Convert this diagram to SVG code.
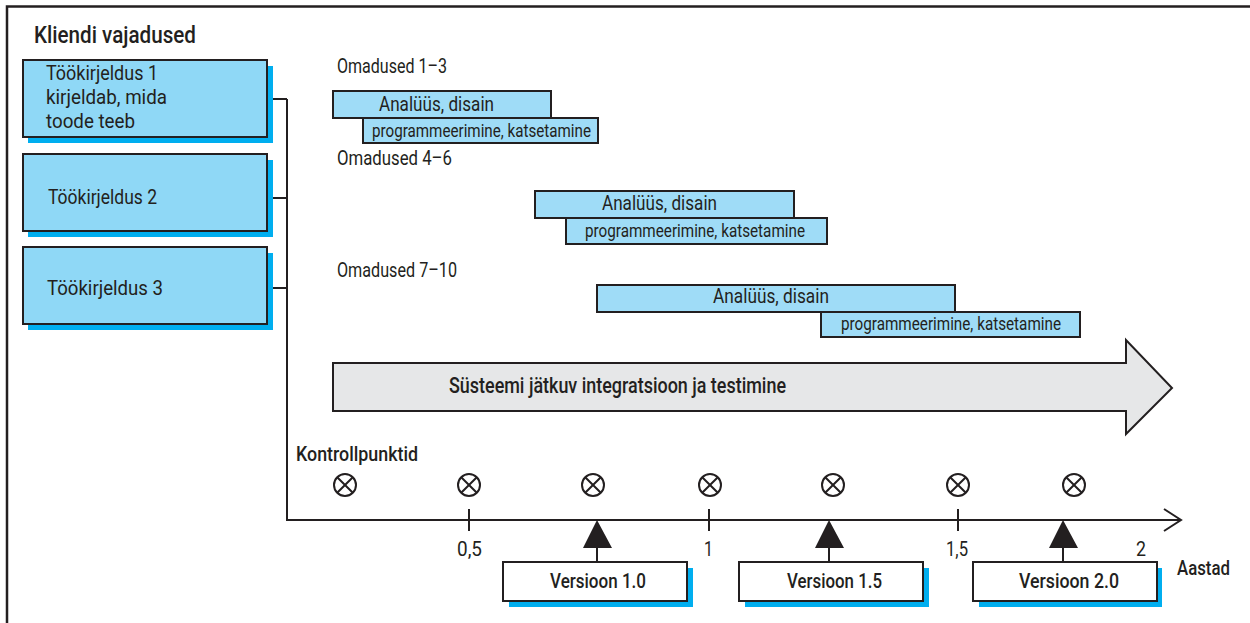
<svg xmlns="http://www.w3.org/2000/svg" width="1250" height="623" viewBox="0 0 1250 623">
<defs>
<style>
text{font-family:"Roboto","Liberation Sans",sans-serif;fill:#231f20}
.ln{stroke:#231f20;stroke-width:2;fill:none}
.box{fill:#8fd8f6;stroke:#231f20;stroke-width:2}
.shadow{fill:#00aeef}
.bar{fill:#9fdcf7;stroke:#231f20;stroke-width:2}
.vbox{fill:#ffffff;stroke:#231f20;stroke-width:2}
.t21{font-size:21px}
.t20{font-size:20px}
.t19{font-size:19px}
.med{font-weight:500}
</style>
<g id="cp">
<circle cx="0" cy="0" r="11" fill="#fff" stroke="#231f20" stroke-width="2"/>
<path d="M-7.8,-7.8L7.8,7.8M-7.8,7.8L7.8,-7.8" stroke="#231f20" stroke-width="2"/>
</g>
</defs>
<rect width="1250" height="623" fill="#fff"/>
<path d="M7,623V6.5H1250" fill="none" stroke="#231f20" stroke-width="2.5"/>
<text x="34" y="43" class="med" font-size="23" textLength="162" lengthAdjust="spacingAndGlyphs">Kliendi vajadused</text>

<g id="connectors">
<path class="ln" d="M267,99H287M267,198H287M267,288H287M287,99V520H1180"/>
<path class="ln" d="M1164,509L1181,520L1164,531" stroke-width="2.2"/>
<path class="ln" d="M469,509V531M709,509V531M958,509V531"/>
<path class="ln" d="M597,548V562M829,548V562M1063,548V562"/>
<path d="M597,520L583,548H612Z M829,520L815,548H844Z M1063,520L1049,548H1078Z" fill="#231f20"/>
</g>

<g id="req1">
<rect class="shadow" x="28" y="66" width="245" height="77"/>
<rect class="box" x="23" y="60" width="244" height="77"/>
<text x="46" y="80" class="t21" textLength="112" lengthAdjust="spacingAndGlyphs">Töökirjeldus 1</text>
<text x="46" y="104" class="t21" textLength="121" lengthAdjust="spacingAndGlyphs">kirjeldab, mida</text>
<text x="46" y="128" class="t21" textLength="89" lengthAdjust="spacingAndGlyphs">toode teeb</text>
</g>
<g id="req2">
<rect class="shadow" x="28" y="160" width="245" height="77"/>
<rect class="box" x="23" y="154" width="244" height="77"/>
<text x="48" y="204" class="t21" textLength="109" lengthAdjust="spacingAndGlyphs">Töökirjeldus 2</text>
</g>
<g id="req3">
<rect class="shadow" x="28" y="253" width="245" height="77"/>
<rect class="box" x="23" y="247" width="244" height="77"/>
<text x="47" y="295" class="t21" textLength="116" lengthAdjust="spacingAndGlyphs">Töökirjeldus 3</text>
</g>

<g id="feat1">
<text x="337" y="73" class="t20" textLength="110" lengthAdjust="spacingAndGlyphs">Omadused 1–3</text>
<rect class="bar" x="333" y="91" width="218" height="27"/>
<text x="379" y="111" class="t20" textLength="115" lengthAdjust="spacingAndGlyphs">Analüüs, disain</text>
<rect class="bar" x="363" y="118" width="235" height="25"/>
<text x="372" y="137" class="t19" textLength="219" lengthAdjust="spacingAndGlyphs">programmeerimine, katsetamine</text>
</g>
<g id="feat2">
<text x="337" y="165" class="t20" textLength="115" lengthAdjust="spacingAndGlyphs">Omadused 4–6</text>
<rect class="bar" x="535" y="191" width="259" height="27"/>
<text x="602" y="210" class="t20" textLength="115" lengthAdjust="spacingAndGlyphs">Analüüs, disain</text>
<rect class="bar" x="566" y="218" width="261" height="26"/>
<text x="585" y="237" class="t19" textLength="220" lengthAdjust="spacingAndGlyphs">programmeerimine, katsetamine</text>
</g>
<g id="feat3">
<text x="337" y="277" class="t20" textLength="120" lengthAdjust="spacingAndGlyphs">Omadused 7–10</text>
<rect class="bar" x="597" y="285" width="358" height="27"/>
<text x="713" y="303" class="t20" textLength="116" lengthAdjust="spacingAndGlyphs">Analüüs, disain</text>
<rect class="bar" x="821" y="312" width="259" height="25"/>
<text x="841" y="330" class="t19" textLength="220" lengthAdjust="spacingAndGlyphs">programmeerimine, katsetamine</text>
</g>

<g id="integration">
<path d="M333,363H1126V340L1172,388L1126,434V411H333Z" fill="#e6e7e8" stroke="#231f20" stroke-width="2"/>
<text x="449" y="393" class="med" font-size="22" textLength="337" lengthAdjust="spacingAndGlyphs">Süsteemi jätkuv integratsioon ja testimine</text>
</g>

<g id="checkpoints">
<text x="296" y="461" class="t20 med" textLength="122" lengthAdjust="spacingAndGlyphs">Kontrollpunktid</text>
<use href="#cp" x="345" y="485"/>
<use href="#cp" x="469" y="485"/>
<use href="#cp" x="593" y="485"/>
<use href="#cp" x="710" y="485"/>
<use href="#cp" x="833" y="485"/>
<use href="#cp" x="958" y="485"/>
<use href="#cp" x="1074" y="485"/>
</g>

<g id="axis-labels">
<text x="457" y="556" class="t20" textLength="25" lengthAdjust="spacingAndGlyphs">0,5</text>
<text x="704" y="556" class="t20" textLength="9" lengthAdjust="spacingAndGlyphs">1</text>
<text x="946" y="556" class="t20" textLength="22" lengthAdjust="spacingAndGlyphs">1,5</text>
<text x="1136" y="556" class="t20" textLength="10" lengthAdjust="spacingAndGlyphs">2</text>
<text x="1177" y="575" class="t20 med" textLength="53" lengthAdjust="spacingAndGlyphs">Aastad</text>
</g>

<g id="v10">
<rect class="shadow" x="509" y="568" width="184" height="39"/>
<rect class="vbox" x="503" y="562" width="184" height="39"/>
<text x="550" y="588" class="med" font-size="21" textLength="96" lengthAdjust="spacingAndGlyphs">Versioon 1.0</text>
</g>
<g id="v15">
<rect class="shadow" x="745" y="568" width="184" height="39"/>
<rect class="vbox" x="739" y="562" width="184" height="39"/>
<text x="787" y="588" class="med" font-size="21" textLength="95" lengthAdjust="spacingAndGlyphs">Versioon 1.5</text>
</g>
<g id="v20">
<rect class="shadow" x="979" y="568" width="183" height="39"/>
<rect class="vbox" x="973" y="562" width="184" height="39"/>
<text x="1019" y="588" class="med" font-size="21" textLength="100" lengthAdjust="spacingAndGlyphs">Versioon 2.0</text>
</g>
</svg>
